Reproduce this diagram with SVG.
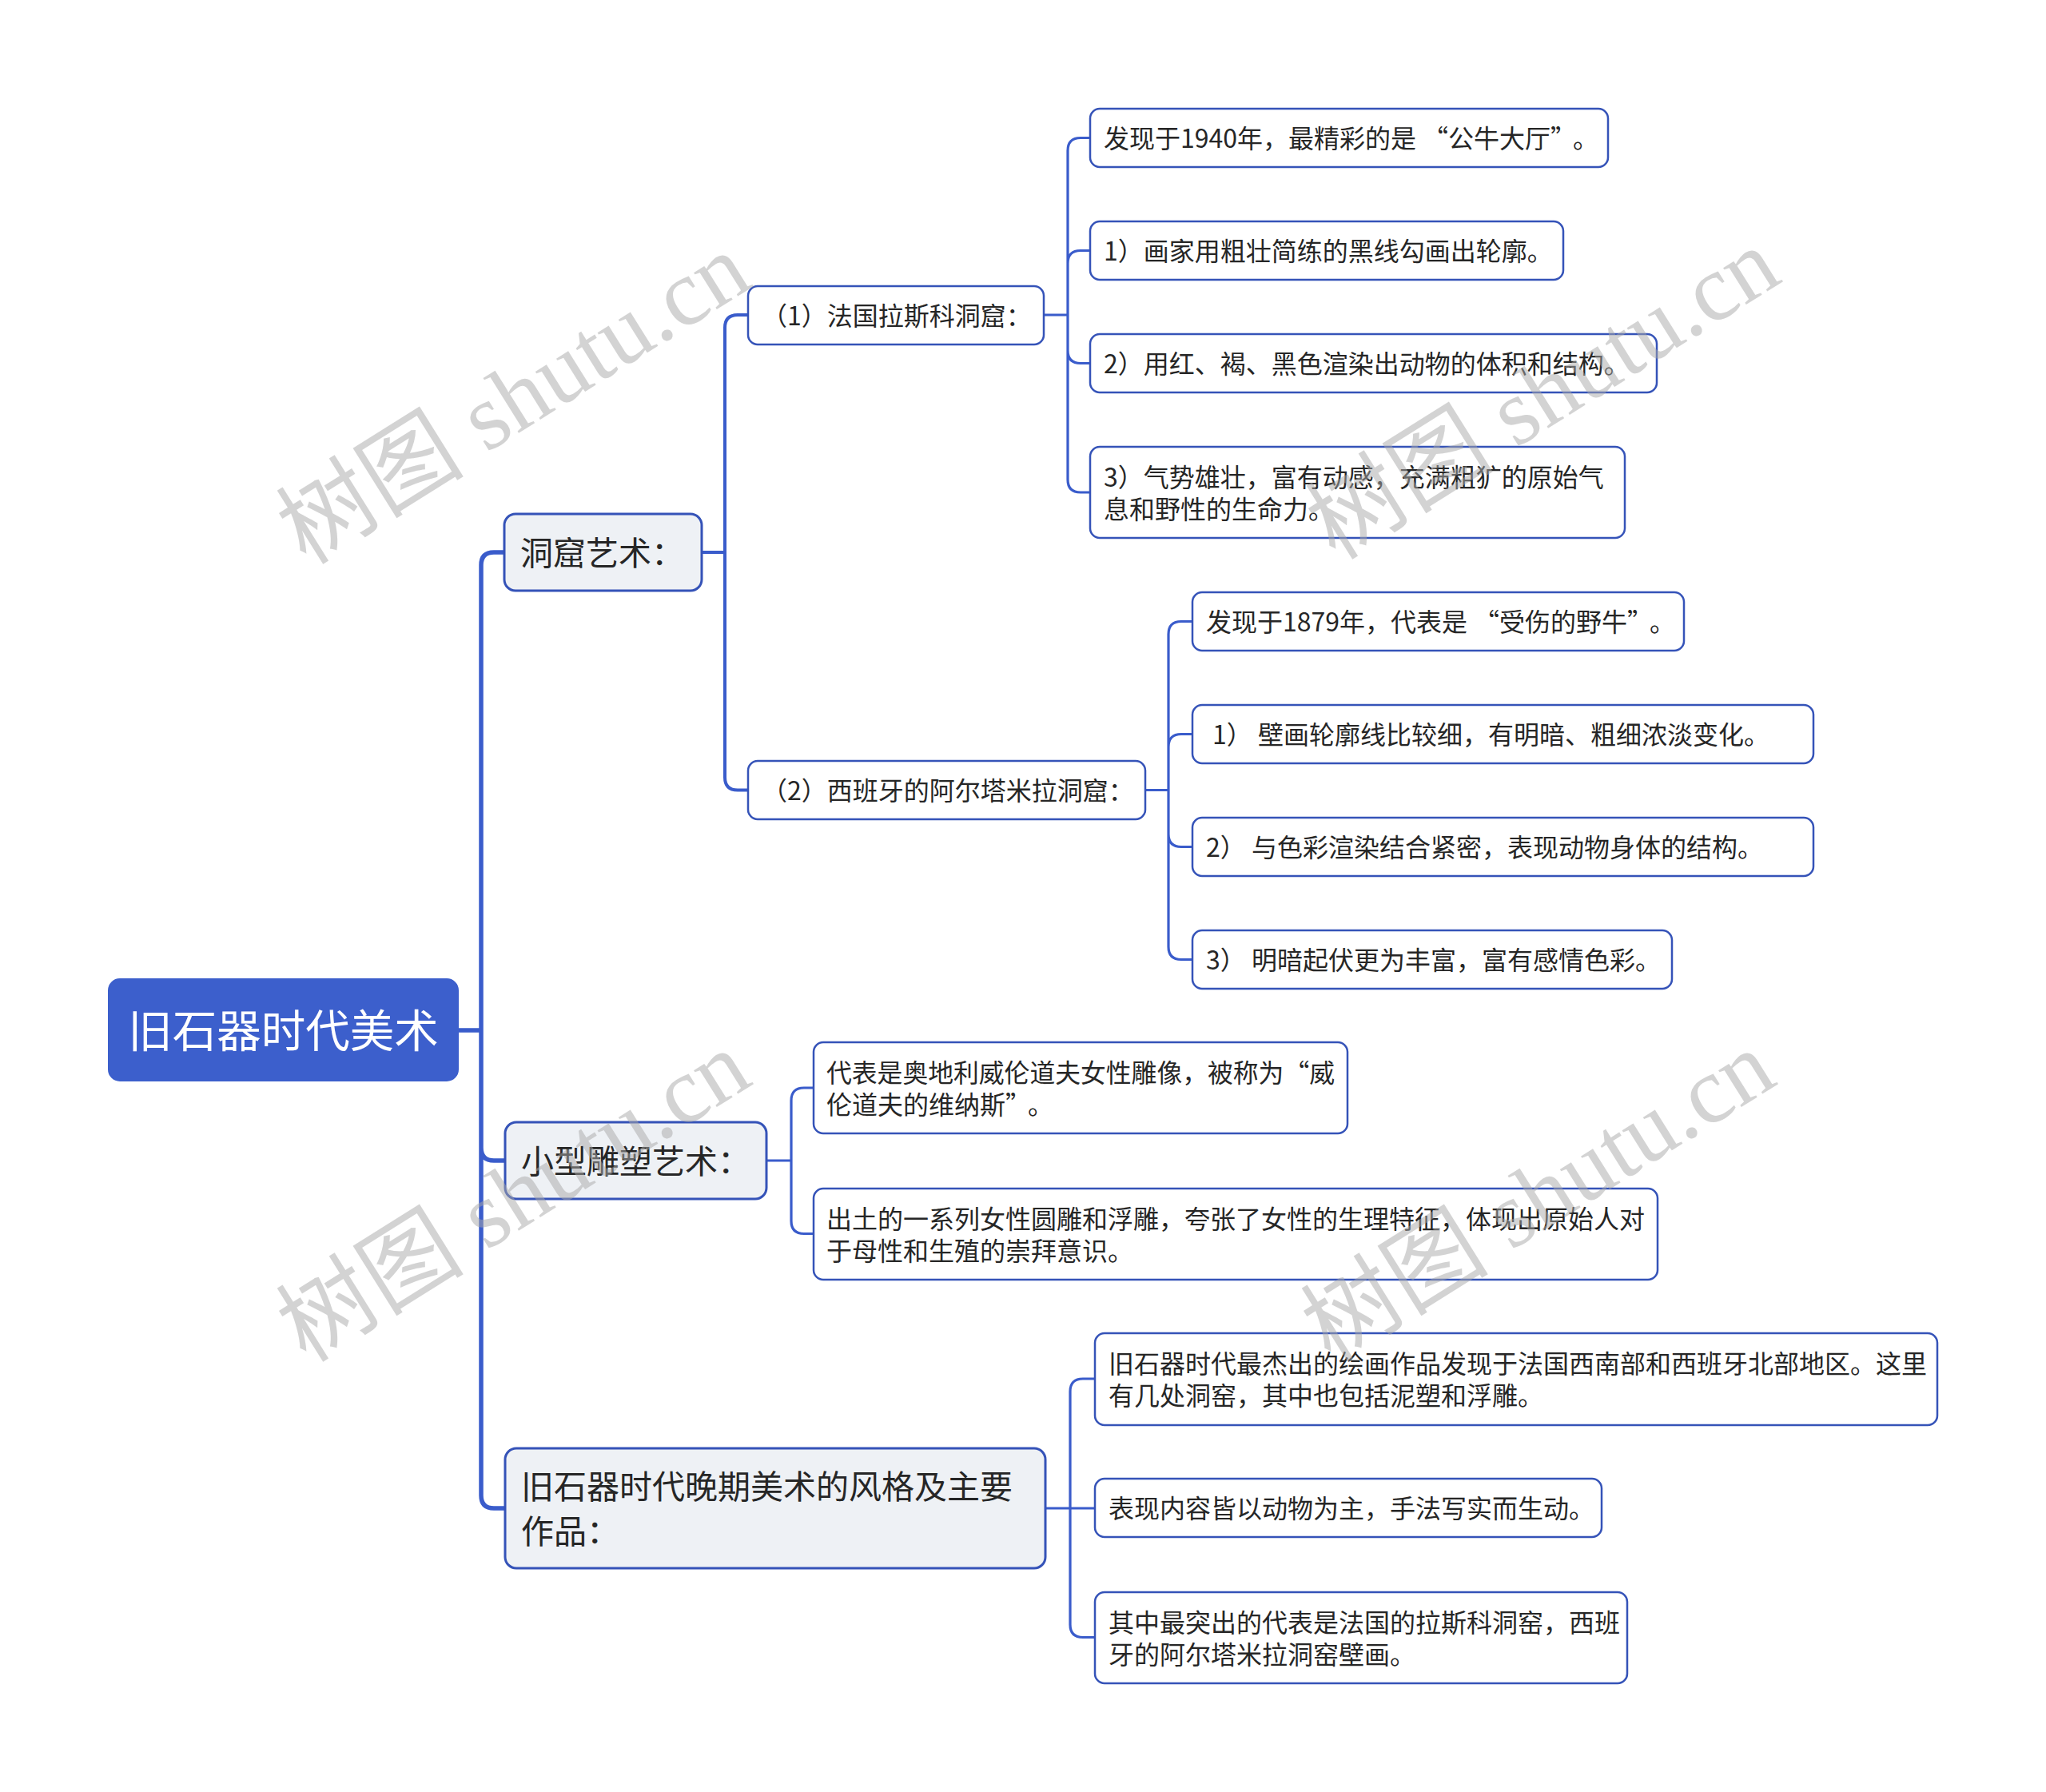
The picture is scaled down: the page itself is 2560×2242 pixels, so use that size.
<svg xmlns="http://www.w3.org/2000/svg" width="2560" height="2242" viewBox="0 0 2560 2242" lang="zh-CN">
<style>
.bg{fill:#ffffff}
.root rect{fill:#3c5fcc;stroke:#3c5fcc;stroke-width:2}
.root text{fill:#ffffff;font-size:55.5px;text-anchor:middle}
.l1 rect{fill:#eef1f5;stroke:#3553b8;stroke-width:3}
.l1 text{fill:#262626;font-size:41px}
.leaf rect{fill:#ffffff;stroke:#3553b8;stroke-width:2.5}
.leaf text{fill:#262626;font-size:32px}
text{font-family:"Noto Sans CJK SC","Microsoft YaHei","Noto Sans",sans-serif}
.c0{fill:none;stroke:#3a5ccb;stroke-width:5.5}
.c1{fill:none;stroke:#3a5ccb;stroke-width:4}
.c2{fill:none;stroke:#3a5ccb;stroke-width:3.2}
.wm text{font-family:"Liberation Serif","Noto Sans CJK SC",serif;font-size:118px;fill:#a8a8a8;fill-opacity:0.5}
</style>
<rect class="bg" x="0" y="0" width="2560" height="2242"/>

<g id="connectors">
  <path class="c0" d="M573,1289 H602 M602,1289 V707 Q602,691 618,691 H633 M602,1289 V1436 Q602,1452 618,1452 H633 M602,1289 V1871 Q602,1887 618,1887 H633"/>
  <path class="c1" d="M878,691 H907 M907,691 V410 Q907,394 923,394 H937 M907,691 V972.5 Q907,988.5 923,988.5 H937"/>
  <path class="c2" d="M1306,394 H1336 M1336,394 V188.5 Q1336,172.5 1352,172.5 H1365 M1336,394 V329.5 Q1336,313.5 1352,313.5 H1365 M1336,394 V438.5 Q1336,454.5 1352,454.5 H1365 M1336,394 V600 Q1336,616 1352,616 H1365"/>
  <path class="c2" d="M1433,988.5 H1462 M1462,988.5 V793.5 Q1462,777.5 1478,777.5 H1493 M1462,988.5 V934.5 Q1462,918.5 1478,918.5 H1493 M1462,988.5 V1043.5 Q1462,1059.5 1478,1059.5 H1493 M1462,988.5 V1184.5 Q1462,1200.5 1478,1200.5 H1493"/>
  <path class="c2" d="M959,1452 H990 M990,1452 V1377 Q990,1361 1006,1361 H1019 M990,1452 V1527.5 Q990,1543.5 1006,1543.5 H1019"/>
  <path class="c2" d="M1308,1887 H1339 M1339,1887 V1741 Q1339,1725 1355,1725 H1371 M1339,1887 H1371 M1339,1887 V2032.5 Q1339,2048.5 1355,2048.5 H1371"/>
</g>

<g id="root" class="root">
  <rect x="136" y="1225" width="437" height="127" rx="14"/>
  <text x="354.5" y="1310">旧石器时代美术</text>
</g>

<g id="n-cave" class="l1">
  <rect x="631" y="643" width="247" height="96" rx="14"/>
  <text x="651" y="706.5">洞窟艺术：</text>
</g>
<g id="n-sculpt" class="l1">
  <rect x="632" y="1404" width="327" height="96" rx="14"/>
  <text x="652" y="1467.5">小型雕塑艺术：</text>
</g>
<g id="n-late" class="l1">
  <rect x="632" y="1812" width="676" height="150" rx="14"/>
  <text x="652" y="1874.5">旧石器时代晚期美术的风格及主要</text>
  <text x="652" y="1930.5">作品：</text>
</g>

<g id="n-lascaux" class="leaf">
  <rect x="936" y="358" width="370" height="73" rx="12"/>
  <text x="953" y="406.5">（1）法国拉斯科洞窟：</text>
</g>
<g id="n-altamira" class="leaf">
  <rect x="936" y="952" width="497" height="73" rx="12"/>
  <text x="953" y="1000.5">（2）西班牙的阿尔塔米拉洞窟：</text>
</g>

<g id="n-l1" class="leaf">
  <rect x="1364" y="136" width="648" height="73" rx="12"/>
  <text x="1381" y="184.5">发现于1940年，最精彩的是<tspan dx="8">“</tspan>公牛大厅”<tspan dx="12">。</tspan></text>
</g>
<g id="n-l2" class="leaf">
  <rect x="1364" y="277" width="592" height="73" rx="12"/>
  <text x="1381" y="325.5">1）画家用粗壮简练的黑线勾画出轮廓。</text>
</g>
<g id="n-l3" class="leaf">
  <rect x="1364" y="418" width="709" height="73" rx="12"/>
  <text x="1381" y="466.5">2）用红、褐、黑色渲染出动物的体积和结构。</text>
</g>
<g id="n-l4" class="leaf">
  <rect x="1364" y="559" width="669" height="114" rx="12"/>
  <text x="1381" y="608.5">3）气势雄壮，富有动感，充满粗犷的原始气</text>
  <text x="1381" y="648.5">息和野性的生命力。</text>
</g>

<g id="n-a1" class="leaf">
  <rect x="1492" y="741" width="615" height="73" rx="12"/>
  <text x="1509" y="789.5">发现于1879年，代表是<tspan dx="8">“</tspan>受伤的野牛”<tspan dx="12">。</tspan></text>
</g>
<g id="n-a2" class="leaf">
  <rect x="1492" y="882" width="777" height="73" rx="12"/>
  <text x="1517" y="930.5">1） 壁画轮廓线比较细，有明暗、粗细浓淡变化。</text>
</g>
<g id="n-a3" class="leaf">
  <rect x="1492" y="1023" width="777" height="73" rx="12"/>
  <text x="1509" y="1071.5">2） 与色彩渲染结合紧密，表现动物身体的结构。</text>
</g>
<g id="n-a4" class="leaf">
  <rect x="1492" y="1164" width="600" height="73" rx="12"/>
  <text x="1509" y="1212.5">3） 明暗起伏更为丰富，富有感情色彩。</text>
</g>

<g id="n-s1" class="leaf">
  <rect x="1018" y="1304" width="668" height="114" rx="12"/>
  <text x="1034" y="1353.5" textLength="636" lengthAdjust="spacingAndGlyphs">代表是奥地利威伦道夫女性雕像，被称为“威</text>
  <text x="1034" y="1393.5">伦道夫的维纳斯”<tspan dx="12">。</tspan></text>
</g>
<g id="n-s2" class="leaf">
  <rect x="1018" y="1487" width="1056" height="114" rx="12"/>
  <text x="1034" y="1536.5">出土的一系列女性圆雕和浮雕，夸张了女性的生理特征，体现出原始人对</text>
  <text x="1034" y="1576.5">于母性和生殖的崇拜意识。</text>
</g>

<g id="n-p1" class="leaf">
  <rect x="1370" y="1668" width="1054" height="115" rx="12"/>
  <text x="1387" y="1717.5">旧石器时代最杰出的绘画作品发现于法国西南部和西班牙北部地区。这里</text>
  <text x="1387" y="1757.5">有几处洞窑，其中也包括泥塑和浮雕。</text>
</g>
<g id="n-p2" class="leaf">
  <rect x="1370" y="1850" width="634" height="73" rx="12"/>
  <text x="1387" y="1898.5">表现内容皆以动物为主，手法写实而生动。</text>
</g>
<g id="n-p3" class="leaf">
  <rect x="1370" y="1992" width="666" height="114" rx="12"/>
  <text x="1387" y="2041.5">其中最突出的代表是法国的拉斯科洞窑，西班</text>
  <text x="1387" y="2081.5">牙的阿尔塔米拉洞窑壁画。</text>
</g>

<g id="watermark" class="wm">
  <text x="383" y="708" transform="rotate(-32 383 708)">树图 shutu.cn</text>
  <text x="1671" y="702" transform="rotate(-32 1671 702)">树图 shutu.cn</text>
  <text x="383" y="1706" transform="rotate(-32 383 1706)">树图 shutu.cn</text>
  <text x="1665" y="1706" transform="rotate(-32 1665 1706)">树图 shutu.cn</text>
</g>
</svg>
